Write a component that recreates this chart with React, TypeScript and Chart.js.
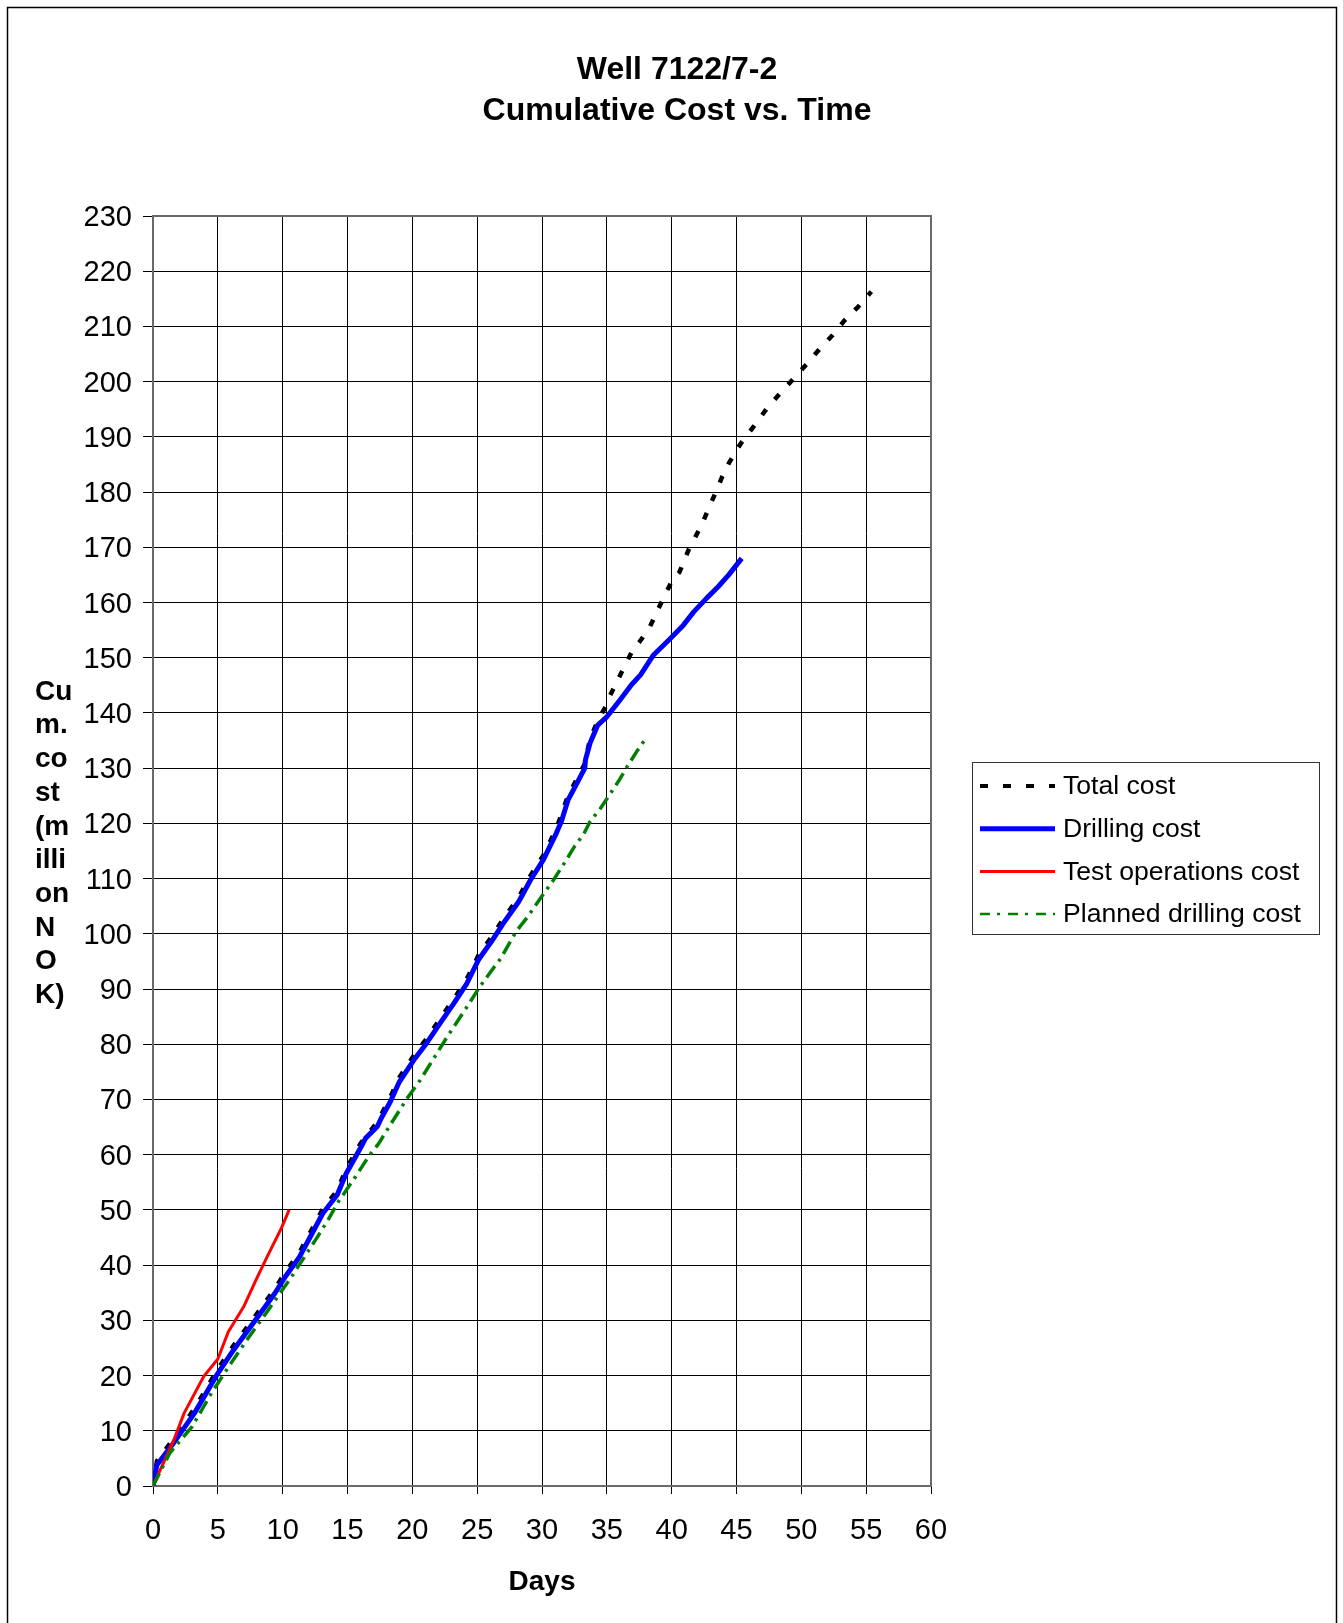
import React, { useEffect, useRef } from "react";
import { Chart, registerables } from "chart.js";

Chart.register(...registerables);

const FONT = 'Arial, "Liberation Sans", Helvetica, sans-serif';

// ---- Text ----
const titleLines = ["Well 7122/7-2", "Cumulative Cost vs. Time"];
const xAxisTitle = "Days";
const yAxisTitleLines = ["Cu", "m.", "co", "st", "(m", "illi", "on", "N", "O", "K)"];
const seriesNames = ["Total cost", "Drilling cost", "Test operations cost", "Planned drilling cost"];

// ---- Axis ranges ----
const X_MIN = 0;
const X_MAX = 60;
const X_STEP = 5;
const Y_MIN = 0;
const Y_MAX = 230;
const Y_STEP = 10;

// ---- Series: Total cost ----
const totalDays = [
  0, 0.3, 1.5, 3.2, 5.0, 6.2, 8.2, 9.4, 10.2, 11.3, 12.1, 13.1, 14.2, 14.9, 16.0, 17.3, 18.3, 19.0,
  20.1, 21.1, 22.2, 23.2, 24.2, 25.1, 26.1, 27.1, 28.2, 29.1, 30.1, 31.1, 32.0, 32.7, 33.3, 33.7,
  34.3, 34.9, 35.2, 36.1, 37.0, 37.5, 38.3, 39.1, 40.0, 40.6, 41.3, 42.3, 43.2, 43.9, 44.4, 45.3,
  46.3, 47.3, 48.4, 49.5, 50.3, 51.4, 52.4, 53.3, 54.4, 55.4,
];
const totalCost = [
  0, 4.5, 8.3, 14.0, 21.2, 25.4, 31.8, 35.7, 38.7, 42.3, 45.8, 50.2, 53.5, 57.4, 62.0, 65.9, 70.4, 74.0,
  77.9, 81.0, 84.8, 88.2, 91.8, 96.1, 99.4, 103.0, 106.6, 110.5, 114.2, 119.0, 125.0, 128.1, 130.8, 135.3,
  138.6, 141.1, 142.9, 147.2, 151.4, 152.8, 155.5, 159.5, 163.8, 165.5, 169.5, 174.0, 178.9, 182.8, 185.2, 188.7,
  191.8, 195.0, 198.0, 200.8, 202.9, 205.9, 208.4, 211.0, 213.6, 216.3,
];

// ---- Series: Drilling cost ----
const drillingDays = [
  0, 0.3, 1.5, 3.2, 5.0, 6.2, 8.2, 9.4, 10.2, 11.3, 12.1, 13.1, 14.2, 14.9, 16.0, 16.4, 17.3, 17.6,
  18.3, 19.0, 20.1, 21.1, 22.2, 23.2, 24.2, 25.1, 26.1, 27.1, 28.2, 29.1, 30.1, 30.6, 31.1, 31.5,
  32.0, 32.7, 33.3, 33.35, 33.7, 34.3, 35.0, 36.0, 36.9, 37.6, 38.6, 39.9, 40.9, 41.7, 42.7, 43.6,
  44.4, 45.4,
];
const drillingCost = [
  0, 3.8, 7.5, 13.2, 20.4, 24.6, 31.0, 34.9, 37.9, 41.5, 45.0, 49.4, 52.7, 56.6, 61.2, 63.0, 65.1, 66.6,
  69.6, 73.2, 77.1, 80.2, 84.0, 87.4, 91.0, 95.3, 98.6, 102.2, 105.8, 109.7, 113.4, 115.8, 118.2, 120.4,
  124.2, 127.3, 130.0, 131.5, 134.5, 137.8, 139.3, 142.3, 145.1, 146.9, 150.5, 153.5, 155.9, 158.3, 160.8, 162.9,
  165.0, 168.0,
];

// ---- Series: Test operations cost ----
const testDays = [0, 1.6, 2.4, 3.9, 5.0, 5.8, 7.0, 8.0, 8.8, 9.9, 10.5];
const testCost = [0, 8.3, 13.2, 19.8, 23.0, 27.9, 32.5, 37.6, 41.5, 46.7, 50.0];

// ---- Series: Planned drilling cost ----
const plannedDays = [
  0, 1.3, 3.0, 4.5, 6.0, 7.4, 8.9, 10.6, 12.6, 13.5, 14.3, 15.7, 16.6, 17.4, 18.3, 19.6, 20.6, 21.8,
  22.7, 24.0, 25.2, 26.1, 26.8, 28.0, 28.9, 29.6, 30.2, 30.9, 31.8, 32.5, 33.2, 33.7, 34.5, 35.1,
  36.0, 36.6, 37.3, 38.1,
];
const plannedCost = [
  0, 6.0, 10.7, 16.8, 22.2, 27.0, 31.9, 37.6, 44.8, 48.2, 51.5, 56.3, 59.6, 62.0, 65.4, 70.2, 73.5, 78.0,
  81.4, 86.0, 90.4, 93.3, 95.5, 100.4, 103.1, 105.5, 107.5, 109.8, 113.1, 115.8, 118.0, 120.3, 122.7, 124.8,
  128.0, 130.4, 133.0, 135.7,
];

const toPoints = (xs: number[], ys: number[]) => xs.map((x, i) => ({ x, y: ys[i] }));

const seriesColors = ["#000000", "#0000ff", "#ff0000", "#008000"];
const seriesWidths = [4.5, 5, 3, 3.5];
const seriesDash: number[][] = [[7, 13], [], [], [14, 6, 3, 6]];
const legendDash: number[][] = [[8, 15], [], [], [10, 7, 3, 8]];
const legendWidths = [4, 5, 3, 2.5];

const decorPlugin = {
  id: "decor",
  beforeDraw(chart: any) {
    const ctx = chart.ctx;
    ctx.save();
    ctx.fillStyle = "#ffffff";
    ctx.fillRect(0, 0, chart.width, chart.height);
    ctx.strokeStyle = "#000000";
    ctx.lineWidth = 1.5;
    ctx.strokeRect(7.5, 7.5, 1329, chart.height + 40);
    ctx.restore();
  },
  beforeDatasetsDraw(chart: any) {
    const { ctx, chartArea } = chart;
    ctx.save();
    ctx.strokeStyle = "#6a6a6a";
    ctx.lineWidth = 2;
    ctx.strokeRect(chartArea.left, chartArea.top, chartArea.right - chartArea.left, chartArea.bottom - chartArea.top);
    ctx.restore();
  },
  afterDraw(chart: any) {
    const ctx = chart.ctx;
    ctx.save();
    ctx.fillStyle = "#000000";
    // Title
    ctx.font = `bold 32px ${FONT}`;
    ctx.textAlign = "center";
    ctx.textBaseline = "middle";
    ctx.fillText(titleLines[0], 677, 70);
    ctx.fillText(titleLines[1], 677, 111);
    // Y axis title (horizontal, wrapped)
    ctx.font = `bold 28px ${FONT}`;
    ctx.textAlign = "left";
    yAxisTitleLines.forEach((t, i) => ctx.fillText(t, 35, 692 + i * 33.7));
    // Legend
    const lx = 972.5, ly = 762.5, lw = 347, lh = 172;
    ctx.strokeStyle = "#333333";
    ctx.lineWidth = 1;
    ctx.strokeRect(lx, ly, lw, lh);
    ctx.font = `26.6px ${FONT}`;
    seriesNames.forEach((name, i) => {
      const y = 786 + i * 42.7;
      ctx.save();
      ctx.strokeStyle = seriesColors[i];
      ctx.lineWidth = legendWidths[i];
      ctx.setLineDash(legendDash[i]);
      ctx.lineCap = "butt";
      ctx.beginPath();
      ctx.moveTo(980, y);
      ctx.lineTo(1055, y);
      ctx.stroke();
      ctx.restore();
      ctx.fillStyle = "#000000";
      ctx.textAlign = "left";
      ctx.textBaseline = "middle";
      ctx.fillText(name, 1063, y + 1);
    });
    ctx.restore();
  },
};

export default function App() {
  const canvasRef = useRef<HTMLCanvasElement | null>(null);

  useEffect(() => {
    const canvas = canvasRef.current;
    if (!canvas) return;
    const dayData = [
      toPoints(totalDays, totalCost),
      toPoints(drillingDays, drillingCost),
      toPoints(testDays, testCost),
      toPoints(plannedDays, plannedCost),
    ];
    const orders = [4, 3, 2, 1];
    const chart = new Chart(canvas, {
      type: "line",
      data: {
        datasets: seriesNames.map((name, i) => ({
          label: name,
          data: dayData[i],
          borderColor: seriesColors[i],
          backgroundColor: seriesColors[i],
          borderWidth: seriesWidths[i],
          borderDash: seriesDash[i],
          order: orders[i],
          pointRadius: 0,
          tension: 0,
          fill: false,
          borderCapStyle: "butt",
          borderJoinStyle: "round",
        })),
      },
      options: {
        responsive: false,
        animation: false,
        events: [],
        layout: { padding: { top: 216, right: 412, bottom: 0, left: 0 } },
        plugins: {
          legend: { display: false },
          title: { display: false },
          tooltip: { enabled: false },
        },
        scales: {
          x: {
            type: "linear",
            min: X_MIN,
            max: X_MAX,
            ticks: {
              stepSize: X_STEP,
              color: "#000",
              font: { family: FONT, size: 29 },
              padding: 20,
              maxRotation: 0,
              autoSkip: false,
            },
            grid: { color: "#000", lineWidth: 1, tickLength: 8, tickColor: "#000" },
            border: { display: false },
            title: {
              display: true,
              text: xAxisTitle,
              color: "#000",
              font: { family: FONT, size: 28, weight: "bold" },
              padding: { top: 0, bottom: 24 },
            },
            afterFit: (s: any) => {
              s.height = 137;
            },
          },
          y: {
            type: "linear",
            min: Y_MIN,
            max: Y_MAX,
            ticks: {
              stepSize: Y_STEP,
              color: "#000",
              font: { family: FONT, size: 29 },
              padding: 11,
              labelOffset: 2,
              autoSkip: false,
            },
            grid: { color: "#000", lineWidth: 1, tickLength: 10, tickColor: "#000" },
            border: { display: false },
            afterFit: (s: any) => {
              s.width = 153;
            },
          },
        },
      } as any,
      plugins: [decorPlugin],
    });
    return () => chart.destroy();
  }, []);

  return (
    <div style={{ position: "absolute", left: 0, top: 0, width: 1343, height: 1623, overflow: "hidden" }}>
      <canvas ref={canvasRef} width={1343} height={1623} style={{ width: 1343, height: 1623, display: "block" }} />
    </div>
  );
}
